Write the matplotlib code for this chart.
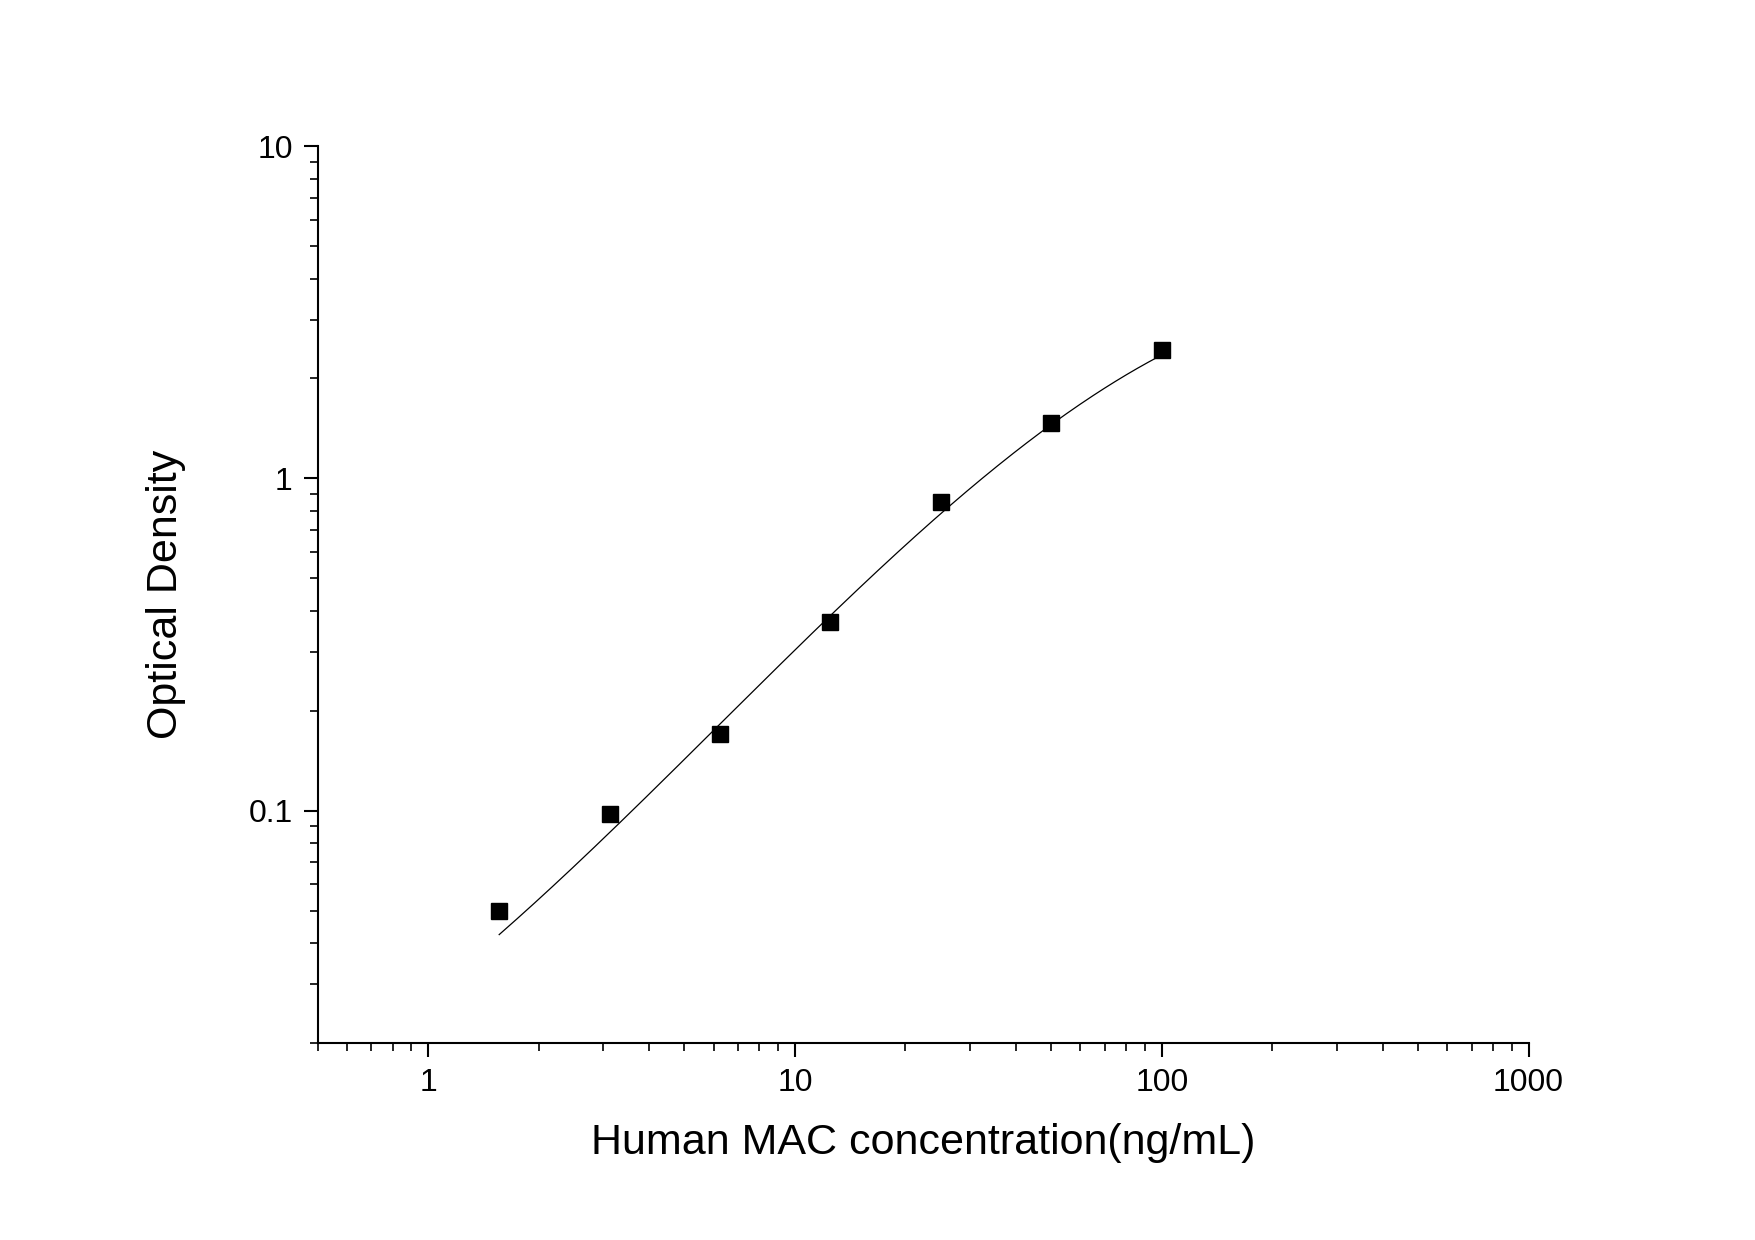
import numpy as np
import matplotlib
matplotlib.use("Agg")
import matplotlib.pyplot as plt
from matplotlib.ticker import LogLocator, FixedLocator, NullFormatter

conc = [1.5625, 3.125, 6.25, 12.5, 25, 50, 100]
od = [0.050, 0.098, 0.170, 0.370, 0.848, 1.47, 2.44]
curve_od = [0.042, 0.088, 0.18, 0.38, 0.80, 1.45, 2.35]

plt.rcParams["font.family"] = "Liberation Sans"
fig = plt.figure(figsize=(17.55, 12.40), dpi=100)
ax = fig.add_axes([0.181, 0.159, 0.69, 0.723])
lx, ly = np.log10(conc), np.log10(curve_od)
c = np.polyfit(lx, ly, 3)
xs = np.linspace(lx[0], lx[-1], 300)
ax.plot(10**xs, 10**np.polyval(c, xs), color="black", lw=0.9)
ax.plot(conc, od, "s", color="black", ms=11)
ax.set_xscale("log"); ax.set_yscale("log")
ax.set_xlim(0.5, 1000); ax.set_ylim(0.02, 10)
ax.xaxis.set_major_locator(FixedLocator([1, 10, 100, 1000]))
ax.set_xticklabels(["1", "10", "100", "1000"])
ax.yaxis.set_major_locator(FixedLocator([0.1, 1, 10]))
ax.set_yticklabels(["0.1", "1", "10"])
ax.xaxis.set_minor_locator(LogLocator(subs=np.arange(2, 10)))
ax.yaxis.set_minor_locator(LogLocator(subs=np.arange(2, 10)))
ax.xaxis.set_minor_formatter(NullFormatter()); ax.yaxis.set_minor_formatter(NullFormatter())
for s in ["top", "right"]:
    ax.spines[s].set_visible(False)
for s in ["left", "bottom"]:
    ax.spines[s].set_linewidth(1.5)
ax.tick_params(which="major", length=10, width=1.5, labelsize=23, pad=8)
ax.tick_params(which="minor", length=6, width=1.2)
ax.set_xlabel("Human MAC concentration(ng/mL)", fontsize=31, labelpad=18)
ax.set_ylabel("Optical Density", fontsize=31, labelpad=45)
fig.savefig("out.png", dpi=100)
